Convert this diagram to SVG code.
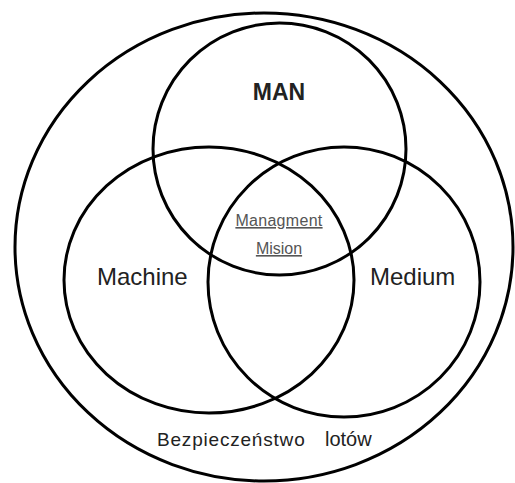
<svg xmlns="http://www.w3.org/2000/svg" width="515" height="483" viewBox="0 0 515 483">
<style>
.c{fill:none;stroke:#000;stroke-width:3}
.t{font-family:"Liberation Sans",Arial,sans-serif;fill:#222}
.s{font-family:"Liberation Sans",Arial,sans-serif;fill:#555;font-size:16px;text-decoration:underline;text-anchor:middle}
</style>
<rect width="515" height="483" fill="#fff"/>
<g id="outer"><ellipse class="c" cx="264" cy="247" rx="249" ry="234"/>
<text class="t" font-size="19" letter-spacing="0.8" x="157" y="446">Bezpieczeństwo</text><text class="t" font-size="20" x="325" y="446">lotów</text></g>
<g id="man"><ellipse class="c" cx="279.5" cy="149" rx="126.5" ry="126"/>
<text class="t" font-size="23" font-weight="bold" x="279" y="100" text-anchor="middle">MAN</text></g>
<g id="machine"><ellipse class="c" cx="209" cy="280" rx="145" ry="133"/>
<text class="t" font-size="24" x="97" y="285">Machine</text></g>
<g id="medium"><ellipse class="c" cx="344" cy="282" rx="136" ry="135"/>
<text class="t" font-size="24" x="370" y="285">Medium</text></g>
<g id="center"><text class="s" x="279" y="226" letter-spacing="0.3">Managment</text><text class="s" x="279" y="254">Mision</text></g>
</svg>
